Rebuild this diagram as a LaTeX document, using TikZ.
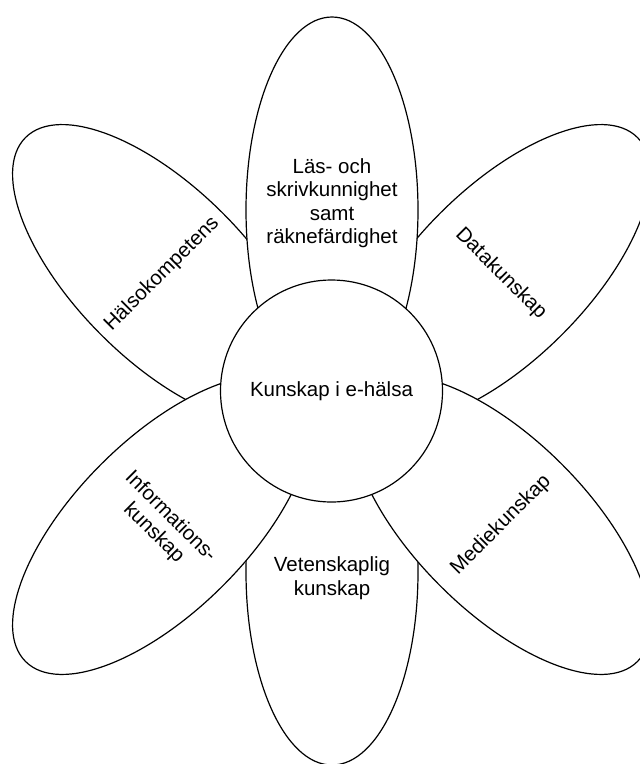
\documentclass[tikz,border=0pt]{standalone}
\usepackage{fontspec}
\setmainfont{Liberation Sans}
\usetikzlibrary{shapes.geometric}
\begin{document}
\begin{tikzpicture}[x=1pt,y=-1pt,
  petal/.style={ellipse, draw, fill=white, line width=1.2pt, minimum width=172pt, minimum height=386pt, inner sep=0pt},
  ptext/.style={font=\fontsize{20.5}{23.5}\selectfont, align=center, inner sep=0pt},
  hub/.style={circle, draw, fill=white, line width=1.2pt, minimum size=222pt, inner sep=0pt}]
\useasboundingbox (0,0) rectangle (640,764);
% petals, back to front
\node[petal, rotate=45]  (hk) at (162,274) {};
\node[petal, rotate=-45] (dk) at (501,274) {};
\node[petal]             (vk) at (332,572) {};
\node[petal]             (lk) at (332,210) {};
\node[petal, rotate=-45] (ik) at (162,525) {};
\node[petal, rotate=45]  (mk) at (501,525) {};
\node[hub]               (c)  at (331.5,391) {};
% texts
\node[ptext, rotate=45]  (thk) at (hk.center) {Hälsokompetens};
\node[ptext, rotate=-45] (tdk) at (dk.center) {Datakunskap};
\node[ptext]             (tvk) at (332,578) {Vetenskaplig\\kunskap};
\node[ptext]             (tlk) at (332,203) {Läs- och\\skrivkunnighet\\samt\\räknefärdighet};
\node[ptext, rotate=-45] (tik) at (ik.center) {Informations-\\kunskap};
\node[ptext, rotate=45]  (tmk) at (mk.center) {Mediekunskap};
\node[ptext]             (tc)  at (c.center) {Kunskap i e-hälsa};
\end{tikzpicture}
\end{document}
